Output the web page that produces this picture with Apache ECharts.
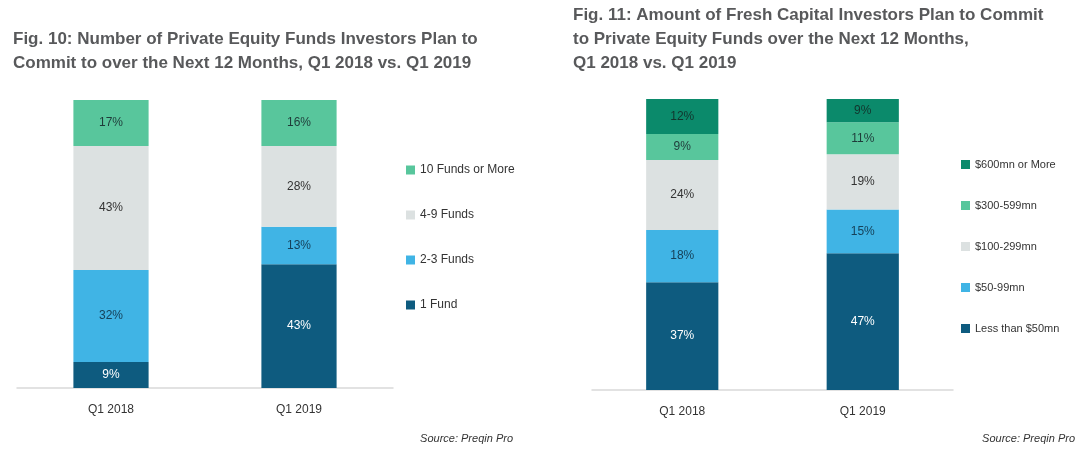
<!DOCTYPE html>
<html>
<head>
<meta charset="utf-8">
<script src="https://cdn.jsdelivr.net/npm/echarts@6/dist/echarts.min.js"></script>
<style>html,body{margin:0;padding:0;background:#fff}#c{width:1080px;height:451px}</style>
</head>
<body>
<div id="c"></div>
<script>
// Fig. 10 data
const categories = ['Q1 2018', 'Q1 2019'];
const fundsSeriesNames = ['1 Fund', '2-3 Funds', '4-9 Funds', '10 Funds or More'];
const funds1 = [9, 43];
const funds2to3 = [32, 13];
const funds4to9 = [43, 28];
const funds10plus = [17, 16];

// Fig. 11 data
const capitalSeriesNames = ['Less than $50mn', '$50-99mn', '$100-299mn', '$300-599mn', '$600mn or More'];
const capLess50 = [37, 47];
const cap50to99 = [18, 15];
const cap100to299 = [24, 19];
const cap300to599 = [9, 11];
const cap600plus = [12, 9];

const C_DARK = '#0e5b7f', C_BLUE = '#40b4e5', C_GRAY = '#dce1e1', C_GREEN = '#58c69c', C_DGREEN = '#0b8a6b';
const FONT = '"Liberation Sans", sans-serif';

function mk(name, data, color, xi, labelColor) {
  return {
    name: name, type: 'bar', stack: 's' + xi, xAxisIndex: xi, yAxisIndex: xi,
    data: data, barWidth: '40%', clip: true,
    itemStyle: { color: color },
    label: { show: true, position: 'inside', formatter: '{c}%', color: labelColor,
      fontFamily: FONT, fontSize: 12 },
    emphasis: { disabled: true }
  };
}

const chart = echarts.init(document.getElementById('c'), null, { renderer: 'canvas' });
const axisCommon = {
  type: 'category', data: categories,
  axisLine: { lineStyle: { color: '#d9d9d9', width: 1.5 } },
  axisTick: { show: false },
  axisLabel: { color: '#333', fontFamily: FONT, fontSize: 12, margin: 16 }
};
const yCommon = { type: 'value', min: 0, max: 100, show: false };
const titleStyle = { color: '#58595b', fontFamily: FONT, fontWeight: 'bold', fontSize: 17, lineHeight: 24 };
const sourceStyle = { color: '#333', fontFamily: FONT, fontStyle: 'italic', fontWeight: 'normal', fontSize: 11 };

chart.setOption({
  animation: false,
  title: [
    { text: 'Fig. 10: Number of Private Equity Funds Investors Plan to\nCommit to over the Next 12 Months, Q1 2018 vs. Q1 2019',
      left: 8, top: 22, textStyle: titleStyle },
    { text: 'Fig. 11: Amount of Fresh Capital Investors Plan to Commit\nto Private Equity Funds over the Next 12 Months,\nQ1 2018 vs. Q1 2019',
      left: 568, top: -2, textStyle: titleStyle },
    { text: 'Source: Preqin Pro', right: 562, top: 428, textStyle: sourceStyle },
    { text: 'Source: Preqin Pro', right: 0, top: 428, textStyle: sourceStyle }
  ],
  grid: [
    { left: 17, right: 687, top: 100, bottom: 63 },
    { left: 592, right: 127, top: 99, bottom: 61 }
  ],
  xAxis: [ Object.assign({ gridIndex: 0 }, axisCommon), Object.assign({ gridIndex: 1 }, axisCommon) ],
  yAxis: [ Object.assign({ gridIndex: 0 }, yCommon), Object.assign({ gridIndex: 1 }, yCommon) ],
  legend: [
    { data: ['10 Funds or More', '4-9 Funds', '2-3 Funds', '1 Fund'], orient: 'vertical',
      left: 401, top: 159, itemWidth: 9, itemHeight: 9, itemGap: 33, icon: 'rect',
      textStyle: { color: '#333', fontFamily: FONT, fontSize: 12 }, selectedMode: false },
    { data: ['$600mn or More', '$300-599mn', '$100-299mn', '$50-99mn', 'Less than $50mn'], orient: 'vertical',
      left: 956, top: 154, itemWidth: 9, itemHeight: 9, itemGap: 30, icon: 'rect',
      textStyle: { color: '#333', fontFamily: FONT, fontSize: 11 }, selectedMode: false }
  ],
  series: [
    mk(fundsSeriesNames[0], funds1, C_DARK, 0, '#ffffff'),
    mk(fundsSeriesNames[1], funds2to3, C_BLUE, 0, '#16425a'),
    mk(fundsSeriesNames[2], funds4to9, C_GRAY, 0, '#333333'),
    mk(fundsSeriesNames[3], funds10plus, C_GREEN, 0, '#1f3b3a'),
    mk(capitalSeriesNames[0], capLess50, C_DARK, 1, '#ffffff'),
    mk(capitalSeriesNames[1], cap50to99, C_BLUE, 1, '#16425a'),
    mk(capitalSeriesNames[2], cap100to299, C_GRAY, 1, '#333333'),
    mk(capitalSeriesNames[3], cap300to599, C_GREEN, 1, '#1f3b3a'),
    mk(capitalSeriesNames[4], cap600plus, C_DGREEN, 1, '#12352d')
  ]
});
</script>
</body>
</html>
